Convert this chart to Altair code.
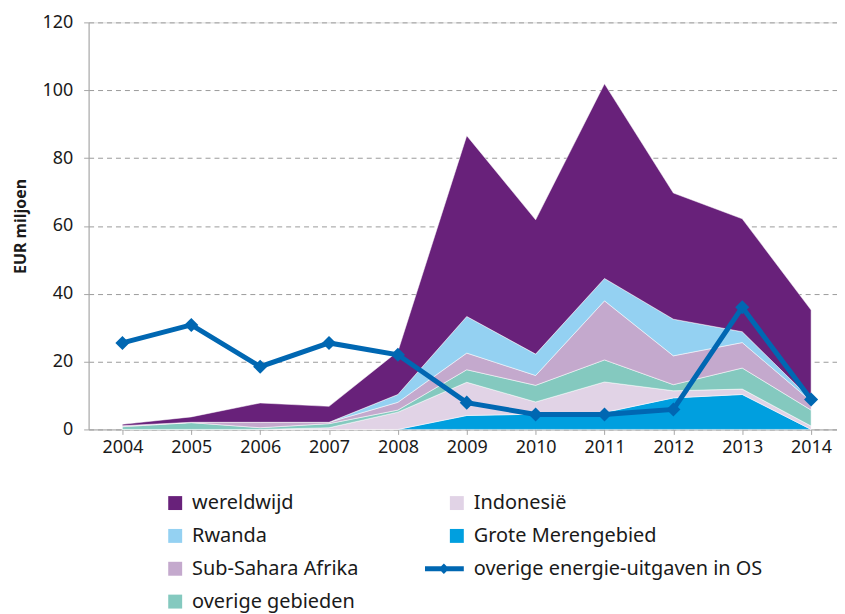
import altair as alt
import pandas as pd

years = [2004, 2005, 2006, 2007, 2008, 2009, 2010, 2011, 2012, 2013, 2014]

# stacked series (bottom to top)
grote_merengebied = [0, 0, 0, 0, 0, 4.1, 4.5, 5.0, 9.3, 10.3, 0]
indonesie = [0, 0, 0, 0.5, 5.1, 9.8, 3.6, 9.0, 2.1, 1.6, 1.0]
overige_gebieden = [0.8, 2.0, 0.5, 1.2, 0.6, 3.7, 4.9, 6.5, 1.8, 6.2, 4.7]
sub_sahara = [0.3, 0.1, 1.6, 0.4, 2.3, 4.9, 2.9, 17.4, 8.5, 7.5, 2.6]
rwanda = [0, 0, 0, 0, 2.3, 10.8, 6.3, 6.6, 10.8, 3.2, 0.5]
wereldwijd = [0.4, 1.6, 5.7, 4.7, 12.7, 53.3, 39.6, 57.4, 37.2, 33.3, 26.4]

# line series
overige_energie = [25.5, 30.8, 18.5, 25.5, 22.0, 7.9, 4.4, 4.4, 5.9, 36.0, 8.8]

stack_names = ["Grote Merengebied", "Indonesië", "overige gebieden",
               "Sub-Sahara Afrika", "Rwanda", "wereldwijd"]
stack_values = [grote_merengebied, indonesie, overige_gebieden,
                sub_sahara, rwanda, wereldwijd]
line_name = "overige energie-uitgaven in OS"

# legend is filled column by column
legend_order = ["wereldwijd", "Rwanda", "Sub-Sahara Afrika", "overige gebieden",
                "Indonesië", "Grote Merengebied", line_name]
legend_colors = ["#68217a", "#94d1f2", "#c4a9cd", "#84c9bf",
                 "#e1d3e6", "#009fdf", "#0067b2"]

rows = []
for rank, (name, vals) in enumerate(zip(stack_names, stack_values)):
    for y, v in zip(years, vals):
        rows.append({"year": y, "series": name, "value": v, "rank": rank})
area_df = pd.DataFrame(rows)
line_df = pd.DataFrame({"year": years, "series": line_name, "value": overige_energie})

FONT = "Noto Sans"

color_scale = alt.Scale(domain=legend_order, range=legend_colors)

shape_expr = (
    "datum && datum.value === '" + line_name + "' ? "
    "'M-4.57,-0.36H1.0V0.36H-4.57Z M-1.86,-0.75L-1.11,0L-1.86,0.75L-2.61,0Z' : 'square'"
)

legend = alt.Legend(
    title=None,
    orient="none",
    legendX=77,
    legendY=473,
    columns=2,
    direction="vertical",
    symbolType=alt.ExprRef(expr=shape_expr),
    symbolSize=196,
    symbolStrokeWidth=0,
    labelFont=FONT,
    labelFontSize=20,
    labelColor="#1a1a1a",
    labelOffset=7,
    rowPadding=13,
    columnPadding=66,
    labelLimit=400,
)

x_enc = alt.X(
    "year:Q",
    scale=alt.Scale(domain=[2003.509, 2014.376], nice=False, zero=False),
    axis=alt.Axis(values=years, format="d", title=None, grid=False,
                  labelFont=FONT, labelFontSize=18, labelColor="#1a1a1a",
                  domainColor="#a6a6a6", tickColor="#a6a6a6", tickSize=5,
                  labelPadding=4),
)

area = alt.Chart(area_df).mark_area(stroke="white", strokeWidth=0.5).encode(
    x=x_enc,
    y=alt.Y("value:Q", stack="zero",
            scale=alt.Scale(domain=[0, 120], nice=False),
            axis=alt.Axis(values=[0, 20, 40, 60, 80, 100, 120], title="EUR miljoen",
                          titleFont=FONT, titleFontSize=16, titleFontWeight="bold",
                          titleColor="#1a1a1a", titlePadding=14,
                          labelFont=FONT, labelFontSize=18, labelColor="#1a1a1a",
                          gridColor="#9a9a9a", gridDash=[5, 4], gridWidth=1,
                          domainColor="#a6a6a6", tickColor="#a6a6a6", tickSize=5,
                          labelPadding=11)),
    color=alt.Color("series:N", scale=color_scale, legend=legend),
    order=alt.Order("rank:Q", sort="ascending"),
)

line = alt.Chart(line_df).mark_line(strokeWidth=5).encode(
    x="year:Q",
    y="value:Q",
    color=alt.Color("series:N", scale=color_scale, legend=legend),
)

points = alt.Chart(line_df).mark_point(shape="diamond", filled=True, size=200, opacity=1).encode(
    x="year:Q",
    y="value:Q",
    color=alt.Color("series:N", scale=color_scale, legend=legend),
)

chart = alt.layer(area, line, points).properties(
    width=752,
    height=409,
    padding={"left": 4, "top": 4, "right": 0, "bottom": 0},
).configure_view(stroke=None).configure(background="white")

chart.save("out.html", embed_options={"renderer": "svg", "actions": False})
